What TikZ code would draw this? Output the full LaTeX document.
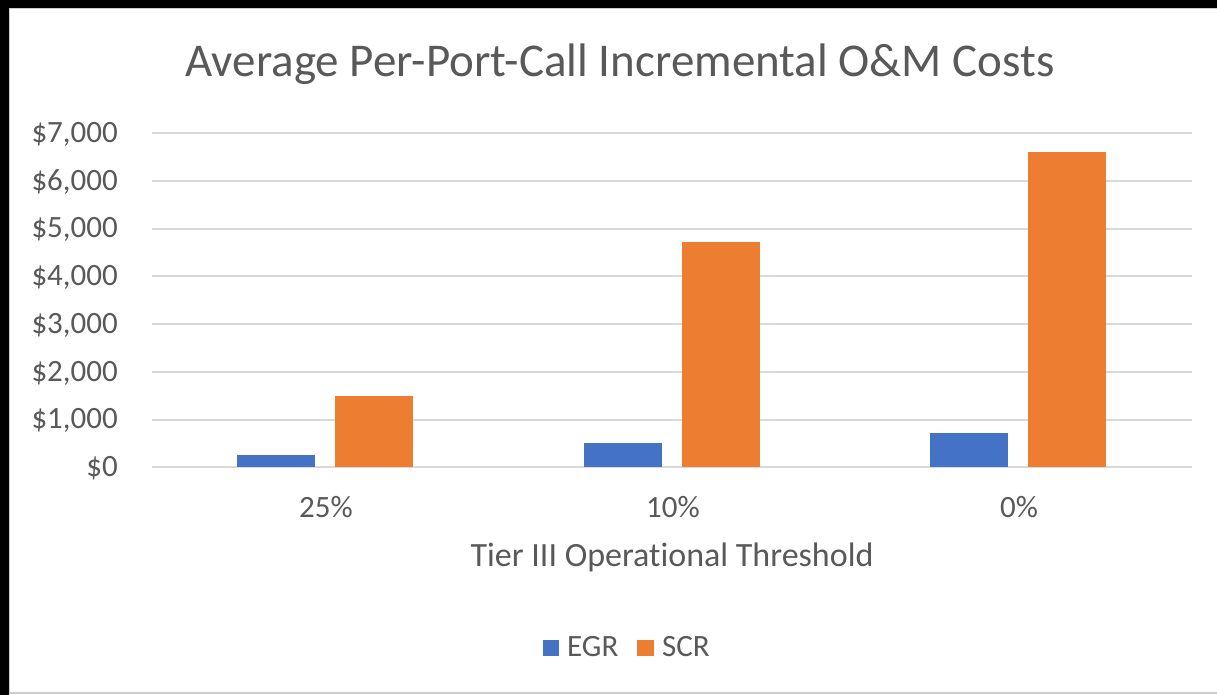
\documentclass[tikz,border=0pt]{standalone}
\usepackage{fontspec}
\setmainfont{Carlito}[Ligatures={NoCommon}]
\usetikzlibrary{positioning}

\definecolor{egrblue}{HTML}{4472C4}
\definecolor{scrorange}{HTML}{ED7D31}
\definecolor{txtgray}{HTML}{595959}
\definecolor{gridgray}{HTML}{D9D9D9}

\tikzset{
  gridline/.style={draw=gridgray, line width=2pt},
  ticklabel/.style={text=txtgray, inner sep=0pt, font=\fontsize{31}{37}\selectfont},
  egrbar/.style={fill=egrblue, draw=none},
  scrbar/.style={fill=scrorange, draw=none}
}

\begin{document}
\begin{tikzpicture}[x=1pt, y=-1pt]
  \useasboundingbox (0,0) rectangle (1217,695);
  % frame
  \fill[black] (0,0) rectangle (1217,8);
  \fill[black] (0,0) rectangle (9,695);
  \draw[fill=white, draw=gray!40, line width=1.2pt] (9.6,8.6) rectangle (1225,693);

  % title
  \node[text=txtgray, inner sep=0pt, anchor=base, font=\fontsize{47}{56}\selectfont]
    (title) at (620,77) {Average Per-Port-Call Incremental O\&M Costs};

  % grid and y labels
  \foreach \v in {0,...,7} {
    \draw[gridline] (152,{467.3-47.73*\v}) -- (1192,{467.3-47.73*\v});
    \ifnum\v=0
      \node[ticklabel, anchor=base east] (ylab\v) at (118,{476.5-47.73*\v}) {\$0};
    \else
      \node[ticklabel, anchor=base east] (ylab\v) at (118,{476.5-47.73*\v}) {\$\v,000};
    \fi
  }

  % bars: center, EGR value, SCR value (in thousands)
  \foreach \c/\e/\s/\n in {326/0.25/1.49/25\%, 673/0.51/4.72/10\%, 1019/0.71/6.60/0\%} {
    \fill[egrbar] ({\c-89},{467.3-47.73*\e}) rectangle ({\c-11},467.3);
    \fill[scrbar] ({\c+9},{467.3-47.73*\s}) rectangle ({\c+87},467.3);
    \node[ticklabel, anchor=base] at (\c,517) {\n};
  }

  % axis title
  \node[text=txtgray, inner sep=0pt, anchor=base, font=\fontsize{34}{41}\selectfont]
    (xtitle) at (672,566.5) {Tier III Operational Threshold};

  % legend
  \fill[egrbar] (543,640) rectangle (559,656);
  \node[ticklabel, anchor=base west] (egr) at (567,656) {EGR};
  \fill[scrbar] (637,640) rectangle (654,656);
  \node[ticklabel, anchor=base west] (scr) at (662,656) {SCR};
\end{tikzpicture}
\end{document}
